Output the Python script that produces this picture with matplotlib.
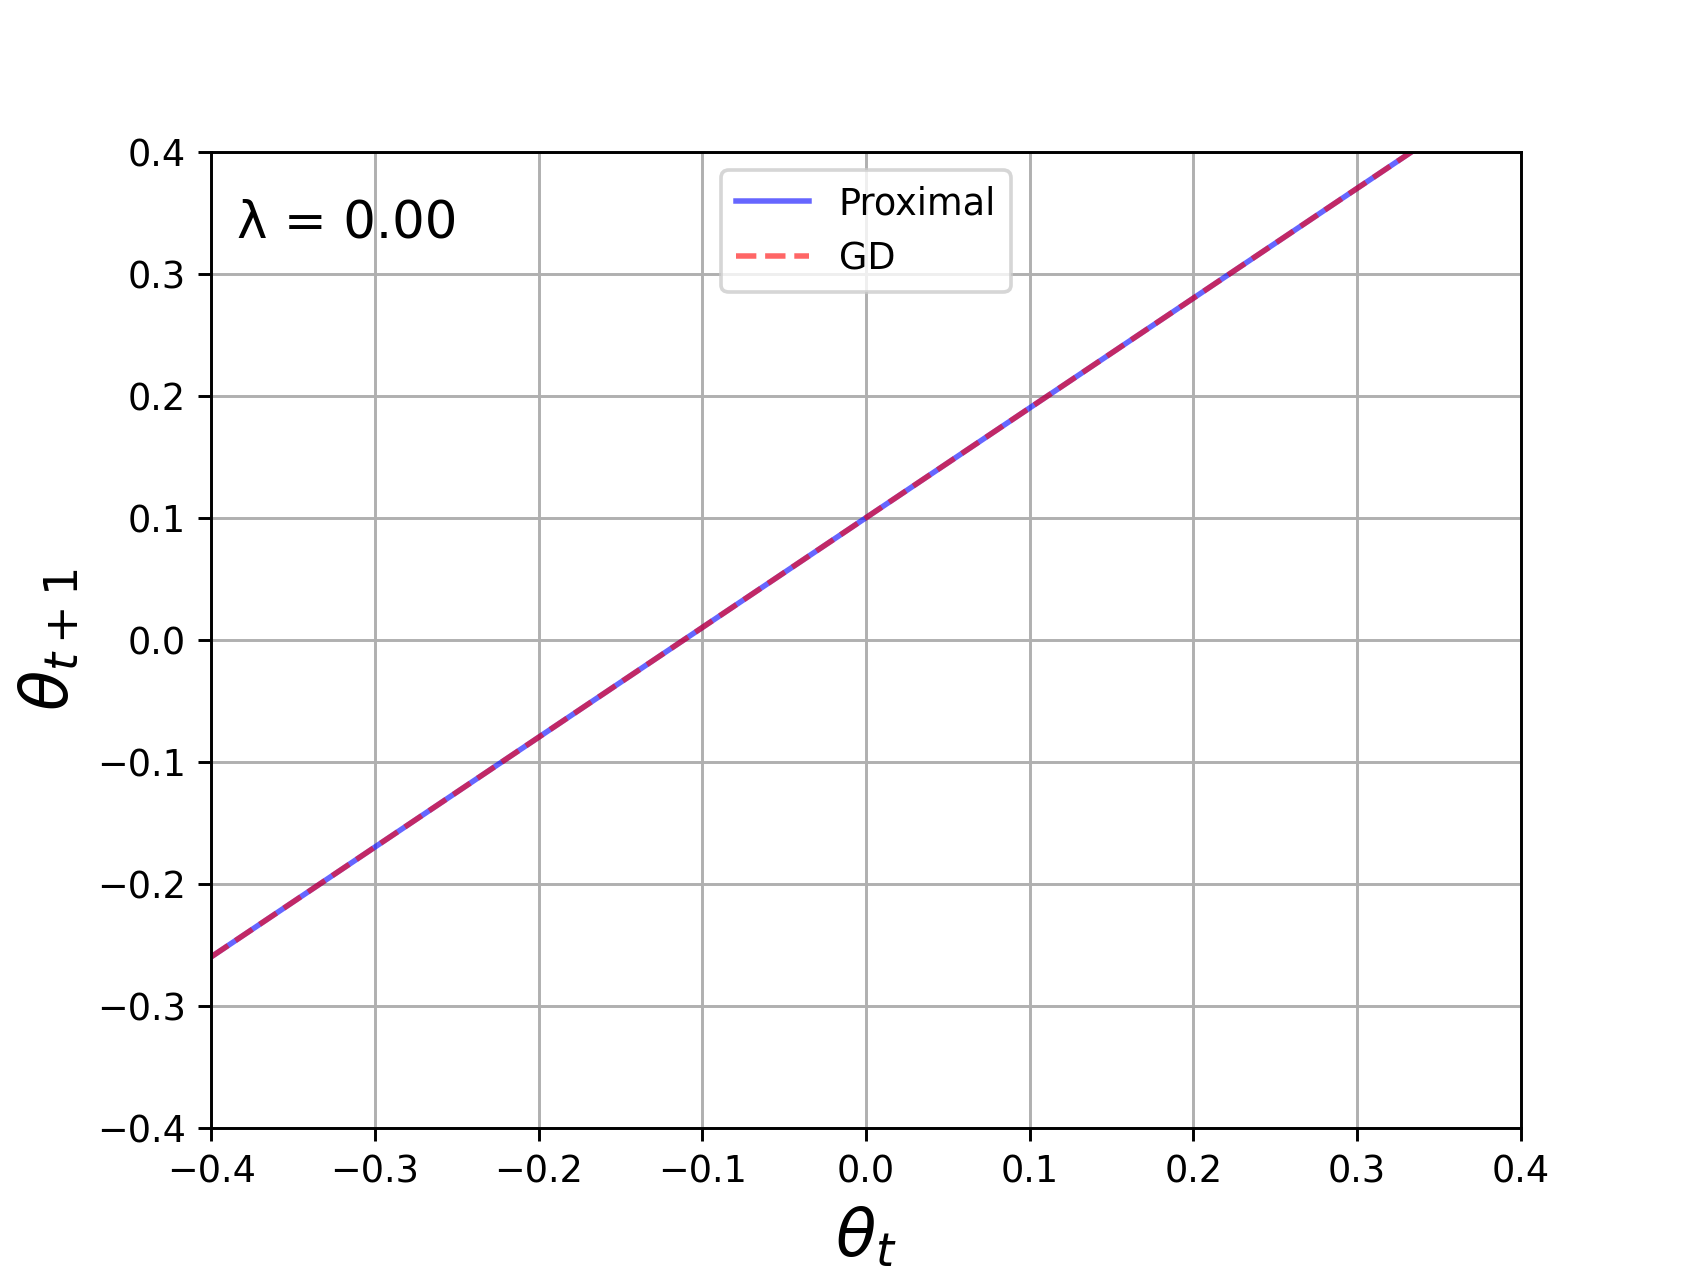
import matplotlib
matplotlib.use("Agg")
from matplotlib import pyplot as plt

# theta_t -> theta_{t+1} (straight line)
theta_t = [-0.4, 0.0, 0.4]
prox_next = [-0.26, 0.10, 0.46]
gd_next = [-0.26, 0.10, 0.46]
lam = 0.00

fig, ax = plt.subplots(figsize=(6.4, 4.8))
ax.plot(theta_t, prox_next, color="blue", alpha=0.6, lw=1.5, label="Proximal")
ax.plot(theta_t, gd_next, color="red", alpha=0.6, lw=1.5, ls="--", label="GD")
ax.text(0.02, 0.912, "λ = %.2f" % lam, transform=ax.transAxes, fontsize=14)
ax.set_xlim(-0.4, 0.4)
ax.set_ylim(-0.4, 0.4)
ax.set_xlabel(r"$\theta_t$", fontsize=18)
ax.set_ylabel(r"$\theta_{t+1}$", fontsize=18)
ax.grid(True)
ax.legend(loc="upper center")
fig.savefig("out.png", dpi=264)
